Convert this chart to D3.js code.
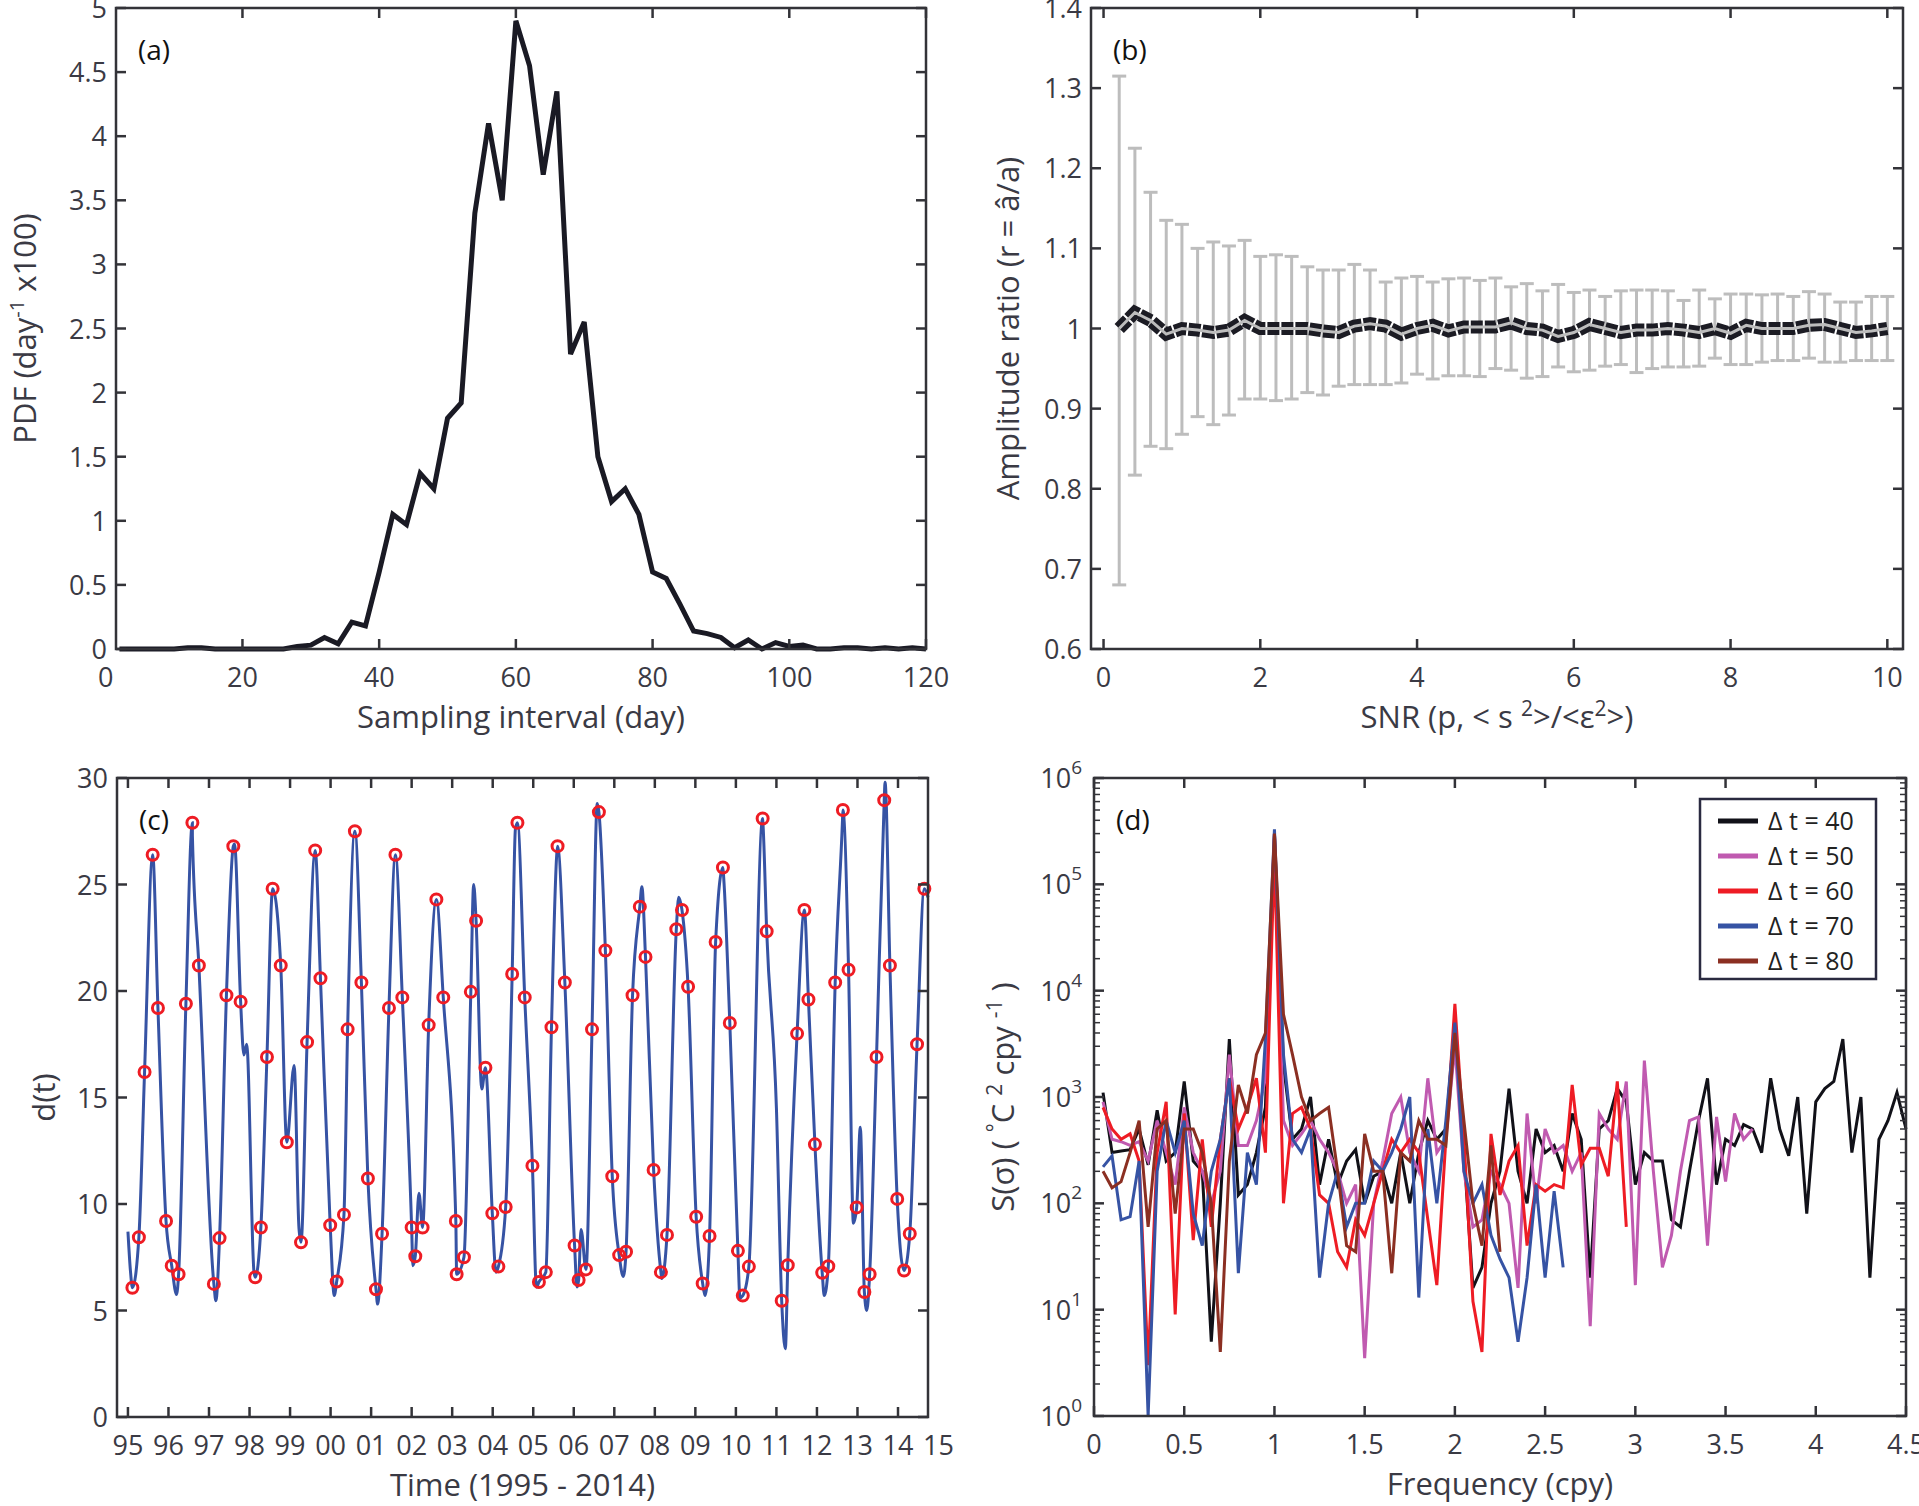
<!DOCTYPE html>
<html>
<head>
<meta charset="utf-8">
<script src="https://cdn.jsdelivr.net/npm/d3@7"></script>
<style>
  body { margin: 0; background: #fff; }
  text { font-family: "Open Sans", "Noto Sans", sans-serif; fill: #3a3a44; }
</style>
</head>
<body>
<svg id="fig" width="1919" height="1506"></svg>
<script>
// ---- panel (a): sampling interval PDF ----
var pdfDays = d3.range(2, 121, 2);
var pdfVals = [0,0,0,0,0,0.01,0.01,0,0,0,0,0,0,0.02,0.03,0.09,0.04,0.21,0.18,0.6,
  1.05,0.97,1.37,1.25,1.8,1.92,3.4,4.1,3.5,4.9,4.55,3.7,4.35,2.3,2.55,1.5,1.15,1.25,1.05,0.6,
  0.55,0.35,0.14,0.12,0.09,0.01,0.07,0,0.05,0.02,0.03,0,0,0.01,0.01,0,0.01,0,0.01,0];

// ---- panel (b): amplitude ratio vs SNR ----
var snr = d3.range(1, 51).map(function(i) { return i * 0.2; });
var ratioMean = [1.0,1.02,1.01,0.993,1.0,0.998,0.995,0.998,1.01,1.0,1.0,1.0,1.0,0.997,0.995,1.003,1.006,1.003,0.993,1.0,
  1.004,0.997,1.002,1.002,1.002,1.007,1.0,0.998,0.99,0.995,1.005,1.0,0.995,0.998,0.998,1.0,0.998,0.995,1.0,0.994,
  1.004,1.0,1.0,1.0,1.004,1.005,1.0,0.995,0.997,1.0];
var ratioUpper = [1.315,1.225,1.17,1.135,1.13,1.10,1.108,1.103,1.11,1.09,1.092,1.09,1.077,1.073,1.073,1.08,1.073,1.058,1.063,1.065,
  1.058,1.062,1.063,1.06,1.063,1.052,1.056,1.047,1.055,1.045,1.048,1.04,1.047,1.048,1.048,1.047,1.035,1.048,1.037,1.043,
  1.043,1.042,1.043,1.04,1.046,1.043,1.033,1.033,1.04,1.04];
var ratioLower = [0.68,0.817,0.853,0.85,0.868,0.89,0.88,0.892,0.912,0.912,0.91,0.912,0.92,0.917,0.928,0.93,0.93,0.93,0.932,0.943,
  0.937,0.941,0.941,0.94,0.95,0.948,0.938,0.94,0.952,0.946,0.948,0.953,0.955,0.945,0.95,0.952,0.952,0.953,0.963,0.955,
  0.955,0.958,0.96,0.96,0.963,0.958,0.958,0.96,0.96,0.96];

// ---- panel (c): samples (years since 1995, value) ----
var sampleT = [0.11,0.27,0.41,0.61,0.74,0.94,1.08,1.25,1.43,1.59,1.75,2.12,2.26,2.43,2.60,2.78,3.14,3.28,3.43,3.57,
  3.77,3.92,4.27,4.42,4.62,4.75,4.99,5.15,5.33,5.42,5.60,5.76,5.92,6.12,6.27,6.44,6.60,6.77,7.00,7.09,
  7.27,7.42,7.61,7.78,8.09,8.11,8.29,8.46,8.59,8.82,8.99,9.14,9.32,9.48,9.61,9.79,9.98,10.14,10.31,10.45,
  10.60,10.78,11.02,11.12,11.30,11.45,11.62,11.78,11.95,12.12,12.29,12.45,12.63,12.77,12.97,13.15,13.30,13.53,13.67,13.82,
  14.02,14.18,14.35,14.50,14.68,14.85,15.05,15.17,15.32,15.66,15.76,16.13,16.28,16.51,16.69,16.79,16.95,17.13,17.28,17.45,
  17.64,17.78,17.98,18.17,18.30,18.47,18.66,18.80,18.98,19.15,19.29,19.47,19.65];
var sampleV = [6.07,8.44,16.2,26.4,19.2,9.2,7.1,6.7,19.4,27.9,21.2,6.25,8.4,19.8,26.8,19.5,6.56,8.9,16.9,24.8,
  21.2,12.9,8.2,17.6,26.6,20.6,9.0,6.36,9.5,18.2,27.5,20.4,11.2,6.0,8.6,19.2,26.4,19.7,8.9,7.55,
  8.9,18.4,24.3,19.7,9.2,6.7,7.5,19.96,23.3,16.4,9.56,7.06,9.86,20.8,27.9,19.7,11.8,6.34,6.8,18.3,
  26.8,20.4,8.05,6.43,6.93,18.2,28.4,21.9,11.3,7.6,7.76,19.8,23.96,21.6,11.6,6.8,8.55,22.9,23.8,20.2,
  9.4,6.27,8.5,22.3,25.8,18.5,7.8,5.7,7.06,28.1,22.8,5.46,7.13,18.0,23.8,19.6,12.8,6.77,7.08,20.4,
  28.5,21.0,9.84,5.87,6.7,16.9,28.96,21.2,10.24,6.88,8.6,17.5,24.8];
// extra turning points of the continuous curve (between samples)
var curveT = [0,0.06,1.2,1.59,2.17,2.63,2.86,2.93,3.11,4.1,4.22,5.09,6.16,7.03,7.18,8.53,8.73,9.08,9.56,10.08,
  10.58,11.08,11.18,11.58,12.22,12.68,13.17,13.59,14.24,14.7,15.1,15.67,16.0,16.22,17.18,17.63,17.9,18.07,18.23,18.68,19.74];
var curveV = [8.7,6.9,5.75,27.3,5.46,26.9,17.0,17.5,6.8,16.5,8.85,5.7,5.3,7.1,10.5,25.0,15.4,6.8,27.6,6.1,
  26.4,6.1,8.8,28.8,6.6,24.9,6.5,24.4,5.7,25.3,5.6,27.8,14.5,3.2,5.7,28.0,9.1,13.6,5.0,29.8,24.4];

// ---- panel (d): spectra at frequencies 0.05, 0.10, ... (values in degC^2/cpy) ----
var freqStep = 0.05;
var seriesNames = ["\u0394 t = 40", "\u0394 t = 50", "\u0394 t = 60", "\u0394 t = 70", "\u0394 t = 80"];
var seriesColors = ["#111118", "#c05ab0", "#ee1c24", "#3653a4", "#8b2f22"];
var spec40 = [1100,300,310,320,500,230,750,250,300,1400,250,200,5,100,3500,120,150,300,800,300000,
  2000,400,500,1000,150,400,150,250,320,100,180,200,100,300,100,300,600,400,500,5000,
  300,16,25,100,200,1200,200,100,500,300,350,200,700,400,20,500,600,1200,900,150,
  300,250,250,70,60,200,600,1500,150,400,350,550,500,300,1500,500,280,1000,80,900,
  1200,1400,3500,300,1000,20,400,600,1100,500];
var spec50 = [900,400,380,350,380,250,600,300,150,800,300,200,100,200,2500,350,350,600,1500,300000,
  600,350,450,600,400,300,200,100,150,3.5,100,250,700,1000,300,200,1500,300,400,3000,
  200,60,70,200,150,100,16,700,100,500,300,350,200,300,7,700,500,400,1400,17,
  2200,200,25,50,200,600,650,40,650,160,700,400,500];
var spec60 = [800,500,400,450,250,3,300,900,9,700,45,400,60,400,1500,500,800,1500,300,200000,
  100,700,800,500,120,100,35,25,70,50,100,200,400,300,400,300,70,17,400,7500,
  400,12,4,450,120,250,350,40,150,130,150,140,1300,230,330,330,180,1400,60];
var spec70 = [220,280,70,75,250,1,200,600,300,600,80,40,200,400,1500,22,300,150,3500,330000,
  2500,400,300,500,20,100,200,60,100,100,250,200,300,500,1000,13,500,100,600,5000,
  200,100,150,50,30,20,5,20,150,20,130,25];
var spec80 = [200,140,160,300,600,60,500,600,80,500,500,300,100,4,250,1300,700,2500,4000,300000,
  6000,2500,1000,600,700,800,200,40,35,450,200,200,22,300,250,600,400,400,350,4000,
  600,100,40,350,35];
var specAll = [spec40, spec50, spec60, spec70, spec80];

var svg = d3.select("#fig");
var axisColor = "#333338";
var tickFont = 27, titleFont = 31;

// draws the matlab-style box with inward ticks on all four sides
function drawFrame(g, x, y, xTicks, yTicks, w, h) {
  g.append("rect").attr("width", w).attr("height", h)
    .attr("fill", "none").attr("stroke", axisColor).attr("stroke-width", 2.5);
  var tl = 10;
  xTicks.forEach(function(t) {
    var px = x(t);
    if (px < 0 || px > w + 0.5) return;
    g.append("line").attr("x1", px).attr("x2", px).attr("y1", h).attr("y2", h - tl)
      .attr("stroke", axisColor).attr("stroke-width", 2.5);
    g.append("line").attr("x1", px).attr("x2", px).attr("y1", 0).attr("y2", tl)
      .attr("stroke", axisColor).attr("stroke-width", 2.5);
  });
  yTicks.forEach(function(t) {
    var py = y(t);
    g.append("line").attr("x1", 0).attr("x2", tl).attr("y1", py).attr("y2", py)
      .attr("stroke", axisColor).attr("stroke-width", 2.5);
    g.append("line").attr("x1", w).attr("x2", w - tl).attr("y1", py).attr("y2", py)
      .attr("stroke", axisColor).attr("stroke-width", 2.5);
  });
}

function tickLabels(g, x, y, xTicks, yTicks, xFmt, yFmt, h) {
  xTicks.forEach(function(t) {
    g.append("text").attr("x", x(t)).attr("y", h + 38).attr("text-anchor", "middle")
      .attr("font-size", tickFont).text(xFmt(t));
  });
  yTicks.forEach(function(t) {
    g.append("text").attr("x", -9).attr("y", y(t) + 10).attr("text-anchor", "end")
      .attr("font-size", tickFont).text(yFmt(t));
  });
}

function xTitle(g, w, h, txt) {
  return g.append("text").attr("x", w / 2).attr("y", h + 79).attr("text-anchor", "middle")
    .attr("font-size", titleFont).text(txt);
}
function yTitle(g, h, dx, txt) {
  return g.append("text").attr("transform", "translate(" + dx + "," + (h / 2) + ") rotate(-90)")
    .attr("text-anchor", "middle").attr("font-size", titleFont).text(txt);
}
function panelTag(g, txt) {
  g.append("text").attr("x", 22).attr("y", 52).attr("font-size", 28).style("fill", "#111").text(txt);
}

// ================= (a) =================
(function() {
  var L = 116, T = 8, W = 810, H = 641;
  var g = svg.append("g").attr("transform", "translate(" + L + "," + T + ")");
  var x = d3.scaleLinear().domain([1.5, 120]).range([0, W]);
  var y = d3.scaleLinear().domain([0, 5]).range([H, 0]);
  var xt = d3.range(0, 121, 20), yt = d3.range(0, 5.01, 0.5);
  g.append("path").datum(pdfDays.map(function(d, i) { return [d, pdfVals[i]]; }))
    .attr("fill", "none").attr("stroke", "#1a1a24").attr("stroke-width", 5).attr("stroke-linejoin", "miter")
    .attr("d", d3.line().x(function(d) { return x(d[0]); }).y(function(d) { return y(d[1]); }));
  drawFrame(g, x, y, xt, yt, W, H);
  tickLabels(g, x, y, xt, yt, d3.format("d"), function(v) { return v === 0 ? "0" : String(+v.toFixed(1)); }, H);
  xTitle(g, W, H, "Sampling interval (day)");
  var yl = yTitle(g, H, -80, "");
  yl.append("tspan").text("PDF (day");
  yl.append("tspan").attr("font-size", 20).attr("dy", -12).text("-1");
  yl.append("tspan").attr("dy", 12).text(" x100)");
  panelTag(g, "(a)");
})();

// ================= (b) =================
(function() {
  var L = 1091, T = 8, W = 812, H = 641;
  var g = svg.append("g").attr("transform", "translate(" + L + "," + T + ")");
  var x = d3.scaleLinear().domain([-0.16, 10.2]).range([0, W]);
  var y = d3.scaleLinear().domain([0.6, 1.4]).range([H, 0]);
  var xt = d3.range(0, 11, 2), yt = d3.range(0.6, 1.401, 0.1);
  var gray = "#bdbdbd";
  snr.forEach(function(s, i) {
    var cx = x(s);
    g.append("line").attr("x1", cx).attr("x2", cx).attr("y1", y(ratioUpper[i])).attr("y2", y(ratioLower[i]))
      .attr("stroke", gray).attr("stroke-width", 3);
    [ratioUpper[i], ratioLower[i]].forEach(function(v) {
      g.append("line").attr("x1", cx - 7).attr("x2", cx + 7).attr("y1", y(v)).attr("y2", y(v))
        .attr("stroke", gray).attr("stroke-width", 3);
    });
  });
  var line = d3.line().x(function(d, i) { return x(snr[i]); }).y(function(d) { return y(d); });
  g.append("path").datum(ratioMean).attr("fill", "none").attr("stroke", "#1c1c24")
    .attr("stroke-width", 13).attr("stroke-dasharray", "12,2").attr("d", line);
  g.append("path").datum(ratioMean).attr("fill", "none").attr("stroke", gray)
    .attr("stroke-width", 3).attr("d", line);
  drawFrame(g, x, y, xt, yt, W, H);
  tickLabels(g, x, y, xt, yt, d3.format("d"), function(v) { return (+v.toFixed(1)) === 1 ? "1" : String(+v.toFixed(1)); }, H);
  var xl = xTitle(g, W, H, "");
  xl.append("tspan").text("SNR (p, < s ");
  xl.append("tspan").attr("font-size", 21).attr("dy", -12).text("2");
  xl.append("tspan").attr("dy", 12).text(">/<\u03b5");
  xl.append("tspan").attr("font-size", 21).attr("dy", -12).text("2");
  xl.append("tspan").attr("dy", 12).text(">)");
  yTitle(g, H, -72, "Amplitude ratio (r = \u00e2/a)");
  panelTag(g, "(b)");
})();

// ================= (c) =================
(function() {
  var L = 117, T = 778, W = 811, H = 639;
  var g = svg.append("g").attr("transform", "translate(" + L + "," + T + ")");
  var x = d3.scaleLinear().domain([-0.27, 19.74]).range([0, W]);
  var y = d3.scaleLinear().domain([0, 30]).range([H, 0]);
  var xt = d3.range(0, 20), yt = d3.range(0, 31, 5);
  var pts = sampleT.map(function(t, i) { return [t, sampleV[i]]; })
    .concat(curveT.map(function(t, i) { return [t, curveV[i]]; }))
    .sort(function(a, b) { return a[0] - b[0]; });
  g.append("path").datum(pts).attr("fill", "none").attr("stroke", "#3653a4").attr("stroke-width", 3)
    .attr("d", d3.line().curve(d3.curveMonotoneX).x(function(d) { return x(d[0]); }).y(function(d) { return y(d[1]); }));
  g.selectAll("circle.s").data(sampleT).enter().append("circle")
    .attr("cx", function(d) { return x(d); }).attr("cy", function(d, i) { return y(sampleV[i]); })
    .attr("r", 5.5).attr("fill", "none").attr("stroke", "#ee1c24").attr("stroke-width", 3);
  drawFrame(g, x, y, xt, yt, W, H);
  var yrLabel = function(t) { return d3.format("02d")((95 + t) % 100); };
  tickLabels(g, x, y, d3.range(0, 21), yt, yrLabel, d3.format("d"), H);
  xTitle(g, W, H, "Time (1995 - 2014)");
  yTitle(g, H, -62, "d(t)");
  panelTag(g, "(c)");
})();

// ================= (d) =================
(function() {
  var L = 1094, T = 778, W = 812, H = 638;
  var g = svg.append("g").attr("transform", "translate(" + L + "," + T + ")");
  var x = d3.scaleLinear().domain([0, 4.5]).range([0, W]);
  var y = d3.scaleLog().domain([1, 1e6]).range([H, 0]);
  var xt = d3.range(0, 4.51, 0.5), yt = [1, 10, 100, 1e3, 1e4, 1e5, 1e6];
  specAll.forEach(function(s, k) {
    g.append("path").datum(s).attr("fill", "none").attr("stroke", seriesColors[k]).attr("stroke-width", 3)
      .attr("d", d3.line().x(function(d, i) { return x((i + 1) * freqStep); })
        .y(function(d) { return y(Math.max(d, 0.9)); }));
  });
  g.append("rect").attr("x", -2).attr("y", H + 1.5).attr("width", W + 4).attr("height", 12).attr("fill", "#fff");
  drawFrame(g, x, y, xt, yt, W, H);
  // minor log ticks
  yt.slice(0, -1).forEach(function(p) {
    d3.range(2, 10).forEach(function(m) {
      var py = y(p * m);
      g.append("line").attr("x1", 0).attr("x2", 6).attr("y1", py).attr("y2", py).attr("stroke", axisColor).attr("stroke-width", 1.5);
      g.append("line").attr("x1", W).attr("x2", W - 6).attr("y1", py).attr("y2", py).attr("stroke", axisColor).attr("stroke-width", 1.5);
    });
  });
  xt.forEach(function(t) {
    g.append("text").attr("x", x(t)).attr("y", H + 38).attr("text-anchor", "middle")
      .attr("font-size", tickFont).text(String(+t.toFixed(1)));
  });
  yt.forEach(function(t, i) {
    var tx = g.append("text").attr("x", -12).attr("y", y(t) + 10).attr("text-anchor", "end").attr("font-size", tickFont);
    tx.append("tspan").text("10");
    tx.append("tspan").attr("font-size", 19).attr("dy", -14).text(String(i));
  });
  xTitle(g, W, H, "Frequency (cpy)");
  var yl = yTitle(g, H, -80, "");
  yl.append("tspan").text("S(\u03c3) ( ");
  yl.append("tspan").attr("font-size", 21).attr("dy", -12).text("\u00b0");
  yl.append("tspan").attr("dy", 12).text("C ");
  yl.append("tspan").attr("font-size", 21).attr("dy", -12).text("2");
  yl.append("tspan").attr("dy", 12).text(" cpy ");
  yl.append("tspan").attr("font-size", 21).attr("dy", -12).text("-1");
  yl.append("tspan").attr("dy", 12).text(" )");
  panelTag(g, "(d)");

  // legend
  var lg = g.append("g").attr("transform", "translate(606,21)");
  lg.append("rect").attr("width", 176).attr("height", 180).attr("fill", "#fff")
    .attr("stroke", "#2a2a40").attr("stroke-width", 2.5);
  seriesNames.forEach(function(n, k) {
    var yy = 22 + k * 35;
    lg.append("line").attr("x1", 18).attr("x2", 58).attr("y1", yy).attr("y2", yy)
      .attr("stroke", seriesColors[k]).attr("stroke-width", 5);
    lg.append("text").attr("x", 68).attr("y", yy + 9).attr("font-size", 25).style("fill", "#222").text(n);
  });
})();
</script>
</body>
</html>
